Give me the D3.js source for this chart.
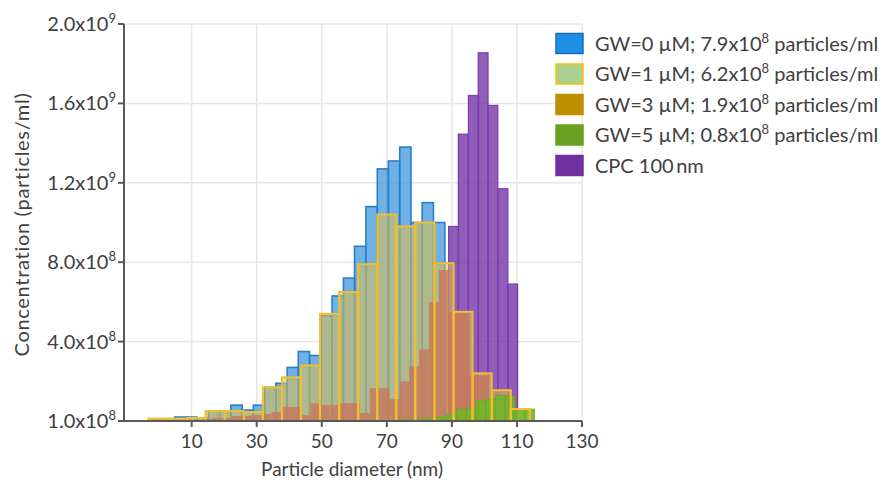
<!DOCTYPE html>
<html>
<head>
<meta charset="utf-8">
<script src="https://cdn.jsdelivr.net/npm/d3@7"></script>
<style>
  body { margin: 0; background: #fff; }
  text { font-family: Lato, "Open Sans", sans-serif; fill: #404040; }
</style>
</head>
<body>
<svg id="chart" width="886" height="485"></svg>
<script>
// bin centres (nm) and concentrations (x10^8 particles/ml)
var gw0Centers = [-0.4, 3.0, 6.5, 9.9, 13.4, 16.9, 20.3, 23.8, 27.2, 30.7, 34.2, 37.6, 41.1, 44.5, 48.0,
                  51.5, 54.9, 58.4, 61.8, 65.3, 68.8, 72.2, 75.7, 79.1, 82.6, 86.1];
var gw0Values  = [0.05, 0.05, 0.2, 0.2, 0.15, 0.5, 0.5, 0.8, 0.55, 0.8, 1.7, 1.9, 2.7, 3.5, 3.3,
                  5.3, 6.3, 7.2, 8.8, 10.8, 12.7, 13.1, 13.8, 10.0, 11.0, 10.0];
var gw0Bin = 3.46;

var gw1Centers = [-0.4, 5.6, 11.4, 17.2, 23.1, 29.0, 34.8, 40.7, 46.5, 52.4, 58.3, 64.1, 70.0, 75.8,
                  81.7, 87.6, 93.4, 99.3, 105.2, 111.0];
var gw1Values  = [0.12, 0.12, 0.15, 0.5, 0.5, 0.45, 1.7, 2.2, 2.8, 5.4, 6.5, 7.9, 10.4, 9.8,
                  10.0, 7.95, 5.5, 2.4, 1.55, 0.6];
var gw1Bin = 5.86;

var gw3Centers = [14.8, 17.8, 20.8, 23.9, 26.9, 29.9, 33.0, 36.0, 39.0, 42.0, 45.1, 48.1, 51.1, 54.2, 57.2,
                  60.2, 63.2, 66.3, 69.3, 72.3, 75.4, 78.4, 81.4, 84.5, 87.5, 90.5, 93.5, 96.6, 99.6, 102.6];
var gw3Values  = [0.1, 0.15, 0.15, 0.25, 0.25, 0.3, 0.35, 0.45, 0.7, 0.7, 0.3, 0.9, 0.8, 0.8, 0.9,
                  0.9, 0.4, 1.65, 1.65, 1.1, 2.0, 2.75, 3.6, 6.0, 7.6, 5.5, 5.5, 2.3, 2.3, 0.5];
var gw3Bin = 3.03;

var gw5Centers = [74.9, 77.9, 80.9, 83.9, 86.9, 89.9, 92.9, 95.9, 98.9, 101.9, 104.9, 107.9, 110.9, 113.9];
var gw5Values  = [0.05, 0.1, 0.1, 0.15, 0.2, 0.35, 0.6, 0.65, 1.05, 1.1, 1.3, 1.25, 0.55, 0.6];
var gw5Bin = 3.0;

var cpcCenters = [90.5, 93.5, 96.6, 99.6, 102.6, 105.7, 108.7];
var cpcValues  = [9.8, 14.45, 16.4, 18.55, 15.9, 11.7, 6.9];
var cpcBin = 3.03;

var xTicks = [10, 30, 50, 70, 90, 110, 130];
var yTicks = [0, 4e8, 8e8, 1.2e9, 1.6e9, 2.0e9];
var yTickBase = ["1.0x10", "4.0x10", "8.0x10", "1.2x10", "1.6x10", "2.0x10"];
var yTickExp  = ["8", "8", "8", "9", "9", "9"];

var legendBase = ["GW=0 \u00b5M; 7.9x10", "GW=1 \u00b5M; 6.2x10", "GW=3 \u00b5M; 1.9x10", "GW=5 \u00b5M; 0.8x10", "CPC 100\u2009nm"];
var legendExp  = ["8", "8", "8", "8", ""];
var legendTail = [" particles/ml", " particles/ml", " particles/ml", " particles/ml", ""];

var svg = d3.select("#chart");
var plotL = 124, plotR = 582, plotT = 24, plotB = 421;

var x = d3.scaleLinear().domain([-10.8, 130]).range([plotL, plotR]);
var y = d3.scaleLinear().domain([0, 2e9]).range([plotB, plotT]);

// grid
svg.append("g").selectAll("line").data(yTicks).enter().append("line")
  .attr("x1", plotL).attr("x2", plotR)
  .attr("y1", d => y(d)).attr("y2", d => y(d))
  .attr("stroke", "#e6e6e6").attr("stroke-width", 1.5);
svg.append("g").selectAll("line").data(xTicks).enter().append("line")
  .attr("x1", d => x(d)).attr("x2", d => x(d))
  .attr("y1", plotT).attr("y2", plotB)
  .attr("stroke", "#e6e6e6").attr("stroke-width", 1.5);

function toBins(centers, values, bin) {
  return centers.map(function(c, i) { return { x0: c - bin / 2, x1: c + bin / 2, v: values[i] * 1e8 }; });
}

function drawBars(data, fill, fillOpacity, stroke, strokeWidth) {
  svg.append("g").selectAll("rect").data(data).enter().append("rect")
    .attr("x", d => x(d.x0))
    .attr("width", d => x(d.x1) - x(d.x0))
    .attr("y", d => y(d.v))
    .attr("height", d => y(0) - y(d.v))
    .attr("fill", fill)
    .attr("fill-opacity", fillOpacity)
    .attr("stroke", stroke)
    .attr("stroke-width", strokeWidth);
}

var gw0 = toBins(gw0Centers, gw0Values, gw0Bin);
var gw1 = toBins(gw1Centers, gw1Values, gw1Bin);
var gw3 = toBins(gw3Centers, gw3Values, gw3Bin);
var gw5 = toBins(gw5Centers, gw5Values, gw5Bin);
var cpc = toBins(cpcCenters, cpcValues, cpcBin);

drawBars(gw0, "#3f97dc", 0.75, "#2a7fcb", 1.6);
drawBars(cpc, "#7434a8", 0.8, "#7a3bae", 1.2);
drawBars(gw1, "#e2bf4a", 0.55, "none", 0);
drawBars(gw3, "#c8755a", 0.8, "none", 0);
drawBars(gw5, "#72b52a", 0.9, "#6aa822", 0.8);
drawBars(gw1, "none", 0, "#f2bf2c", 2);

// axes
svg.append("line").attr("x1", plotL).attr("x2", plotL).attr("y1", plotT).attr("y2", plotB + 1)
  .attr("stroke", "#595959").attr("stroke-width", 2);
svg.append("line").attr("x1", plotL - 1).attr("x2", plotR).attr("y1", plotB).attr("y2", plotB)
  .attr("stroke", "#595959").attr("stroke-width", 2);

svg.append("g").selectAll("line").data(yTicks).enter().append("line")
  .attr("x1", plotL - 6).attr("x2", plotL).attr("y1", d => y(d)).attr("y2", d => y(d))
  .attr("stroke", "#595959").attr("stroke-width", 2);
svg.append("g").selectAll("line").data(xTicks).enter().append("line")
  .attr("x1", d => x(d)).attr("x2", d => x(d)).attr("y1", plotB).attr("y2", plotB + 6)
  .attr("stroke", "#595959").attr("stroke-width", 2);

// y tick labels with superscript exponent
var yl = svg.append("g").selectAll("text").data(yTicks).enter().append("text")
  .attr("x", plotL - 8).attr("y", d => y(d) + 7)
  .attr("text-anchor", "end").style("font-size", "20px");
yl.append("tspan").text((d, i) => yTickBase[i]);
yl.append("tspan").attr("dy", -8).style("font-size", "13px").text((d, i) => yTickExp[i]);

svg.append("g").selectAll("text").data(xTicks).enter().append("text")
  .attr("x", d => x(d)).attr("y", 448)
  .attr("text-anchor", "middle").style("font-size", "19px")
  .text(d => d);

svg.append("text").attr("x", (plotL + plotR) / 2 - 1).attr("y", 476)
  .attr("text-anchor", "middle").style("font-size", "19px")
  .text("Particle diameter (nm)");

svg.append("text").attr("transform", "translate(29," + ((plotT + plotB) / 2 + 2) + ") rotate(-90)")
  .attr("text-anchor", "middle").style("font-size", "20px").style("letter-spacing", "0.7px")
  .text("Concentration (particles/ml)");

// legend
var legendFill = ["#1f8fe6", "#a9d18e", "#bf8f00", "#6aa121", "#7030a0"];
var legendStroke = ["#1a6cbf", "#ffc000", "#bf8f00", "#6aa121", "#7030a0"];

var lg = svg.append("g").selectAll("g").data(legendBase).enter().append("g")
  .attr("transform", (d, i) => "translate(556," + (43.5 + i * 30.5) + ")");
lg.append("rect").attr("x", 0).attr("y", -10).attr("width", 27).attr("height", 20)
  .attr("fill", (d, i) => legendFill[i])
  .attr("stroke", (d, i) => legendStroke[i]).attr("stroke-width", 1.5);
var lt = lg.append("text").attr("x", 39).attr("y", 7).style("font-size", "20px");
lt.append("tspan").text(d => d);
lt.append("tspan").attr("dy", -8).style("font-size", "13px").text((d, i) => legendExp[i]);
lt.append("tspan").attr("dy", (d, i) => legendExp[i] ? 8 : 0).text((d, i) => legendTail[i]);
</script>
</body>
</html>
